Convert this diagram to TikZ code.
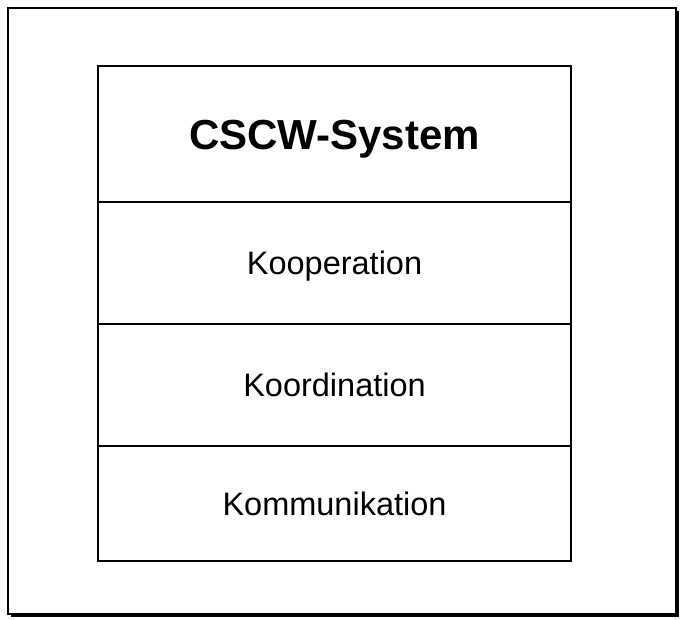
\documentclass[tikz,border=0pt]{standalone}
\usepackage{fontspec}
\setmainfont{Liberation Sans}
\usetikzlibrary{positioning}

\begin{document}
\begin{tikzpicture}[
    x=1pt, y=-1pt,
    node distance=0pt,
    frame/.style={draw, line width=2pt, fill=white, minimum width=668pt, minimum height=606pt, inner sep=0pt},
    layer/.style={draw, line width=1.6pt, outer sep=0pt, minimum width=473pt, minimum height=122pt, inner sep=0pt,
        text height=23pt, text depth=0pt, font=\fontsize{32.5}{36}\selectfont},
    titlebox/.style={layer, minimum height=136pt, text height=30pt, font=\fontsize{42}{48}\selectfont\bfseries},
]
\useasboundingbox (0,0) rectangle (680,619);

% outer frame with shadow
\fill (11,11) rectangle (679,617);
\node[frame] (outer) at (342,311) {};

% stacked layers
\node[titlebox] (cscw) at (334.5,134) {CSCW-System};
\node[layer, below=of cscw] (koop) {Kooperation};
\node[layer, below=of koop] (koord) {Koordination};
\node[layer, below=of koord, minimum height=115pt] (komm) {Kommunikation};

\end{tikzpicture}
\end{document}
